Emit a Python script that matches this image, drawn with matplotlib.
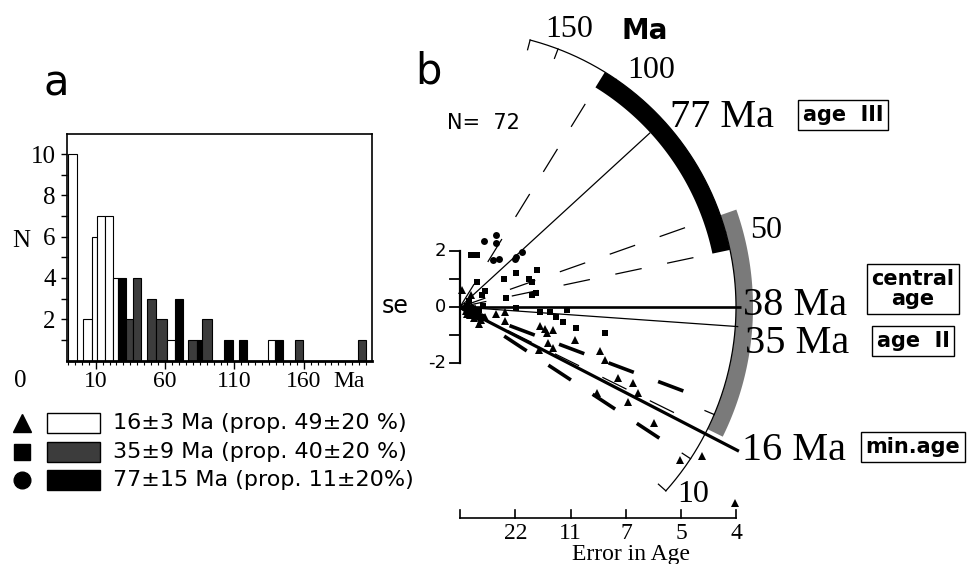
import numpy as np
import matplotlib
matplotlib.use('Agg')
import matplotlib.pyplot as plt
from matplotlib.patches import Rectangle, Polygon
from matplotlib.ticker import FixedLocator, MultipleLocator

plt.rcParams['lines.scale_dashes'] = False
SERIF = 'Liberation Serif'
SANS = 'DejaVu Sans'

# ---------------- panel a: histogram of single-grain ages (Ma) ----------------
bin_left = [-10.2, 0.6, 7.1, 11.2, 16.7, 22.3, 26.3, 31.8, 37.1, 46.8, 53.5,
            61.6, 67.2, 76.8, 82.8, 86.4, 102.5, 113.3, 134.0, 139.3, 153.7, 199.3]
bin_right = [-3.3, 7.1, 11.2, 16.7, 22.3, 26.3, 31.8, 37.1, 42.4, 53.5, 61.6,
             67.2, 72.7, 82.8, 86.4, 94.1, 109.2, 118.9, 139.3, 144.8, 159.2, 204.9]
counts = [10, 2, 6, 7, 7, 4, 4, 2, 4, 3, 2, 1, 3, 1, 1, 2, 1, 1, 1, 1, 1, 1]
group = ['I', 'I', 'I', 'I', 'I', 'I', 'III', 'II', 'II', 'II', 'II',
         'I', 'III', 'II', 'III', 'II', 'III', 'III', 'I', 'III', 'II', 'II']
hist_ticks = [10, 60, 110, 160]

# ---------------- components ----------------
comp_age = [16, 35, 77]
comp_err = [3, 9, 15]
comp_prop = ['49±20 %', '40±20 %', '11±20%']
central_age = 38
n_grains = 72

# ---------------- panel b: radial plot points (precision, standardised estimate) ----
x_tri = [0.03, 0.20, 0.34, 0.66, 0.81, 0.81, 1.45, 1.54, 1.57, 1.69, 1.60, 1.69, 1.42,
         2.08, 2.53, 2.62, 2.86, 3.13, 3.22, 3.04, 2.48, 3.50, 3.98, 4.37, 4.97,
         0.10, 0.18, 0.25, 0.30, 0.38, 0.15, 0.22, 0.45, 0.12, 0.28]
y_tri = [0.61, 0.43, -0.61, -0.26, -0.17, -0.49, -0.68, -0.80, -0.94, -0.82, -1.30, -1.48, -1.54,
         -1.18, -1.56, -1.89, -2.55, -2.73, -3.08, -3.38, -3.06, -4.13, -5.46, -5.32, -7.01,
         -0.15, -0.30, -0.40, -0.20, -0.45, 0.10, -0.10, -0.35, -0.25, -0.05]
x_sq = [0.20, 0.30, 1.39, 1.02, 0.80, 1.25, 1.30, 0.84, 1.30, 1.37, 0.45, 0.39, 1.02,
        1.45, 1.63, 1.93, 1.74, 1.87, 2.10, 2.62, 0.30,
        0.12, 0.20, 0.28, 0.35, 0.16, 0.42]
y_sq = [1.86, 1.86, 1.32, 1.23, 1.00, 1.00, 0.90, 0.31, 0.43, 0.49, 0.58, 0.43, -0.05,
        -0.17, -0.17, -0.11, -0.35, -0.55, -0.74, -0.92, 0.90,
        0.05, -0.05, -0.25, -0.12, 0.22, 0.05]
x_cir = [0.43, 0.66, 0.66, 0.60, 0.71, 1.00, 1.02, 1.12]
y_cir = [2.37, 2.57, 2.27, 1.68, 1.70, 1.70, 1.77, 1.95]

err_labels = ['22', '11', '7', '5', '4']
arc_tick_ages = [0, 10, 20, 50, 100, 150, 200]

# ---------------- geometry of the radial plot ----------------
SX, SY = 55.3, 28.0      # pixels per unit (precision, se)
OX, OY = 460.0, 307.0    # origin pixel
K = 0.0235               # pixel slope per Ma
R_ARC = 276.0


def P(px, py):
    return ((px - OX) / SX, (OY - py) / SY)


def ray(t, r):
    th = np.arctan(K * (t - central_age))
    return r * np.cos(th) / SX, r * np.sin(th) / SY


fig = plt.figure(figsize=(9.7, 5.64), dpi=100)

# ---- panel a ----
axa = fig.add_axes([66.7 / 970, (564 - 360.6) / 564, 305 / 970, 226.6 / 564])
colmap = {'I': 'white', 'II': '#3c3c3c', 'III': 'black'}
widths = [r - l for l, r in zip(bin_left, bin_right)]
axa.bar(bin_left, counts, width=widths, align='edge',
        color=[colmap[g] for g in group], edgecolor='black', linewidth=0.8)
axa.set_xlim(-10.9, 209.0)
axa.set_ylim(0, 10.97)
axa.xaxis.set_major_locator(FixedLocator(hist_ticks))
axa.xaxis.set_minor_locator(MultipleLocator(5))
axa.yaxis.set_major_locator(FixedLocator([2, 4, 6, 8, 10]))
axa.yaxis.set_minor_locator(FixedLocator([1, 3, 5, 7, 9]))
axa.tick_params(axis='x', which='major', direction='out', length=6, width=1, pad=1.5,
                labelsize=17)
axa.tick_params(axis='x', which='minor', direction='out', length=3, width=0.8)
axa.tick_params(axis='y', which='both', direction='out', length=4, width=1, pad=4,
                labelsize=18)
for lab in axa.get_xticklabels() + axa.get_yticklabels():
    lab.set_fontfamily(SERIF)
for s in ['left', 'top', 'right']:
    axa.spines[s].set_linewidth(1.2)
axa.spines['bottom'].set_linewidth(2)

# ---- overlay / panel b ----
axb = fig.add_axes([0, 0, 1, 1])
axb.set_xlim(-OX / SX, (970 - OX) / SX)
axb.set_ylim(-(564 - OY) / SY, OY / SY)
axb.axis('off')

# panel a extra labels
axb.text(*P(56, 84), 'a', fontsize=30, family=SANS, ha='center', va='center')
axb.text(*P(428, 72), 'b', fontsize=30, family=SANS, ha='center', va='center')
axb.text(*P(20, 387), '0', fontsize=18, family=SERIF, ha='center', va='baseline')
axb.text(*P(21, 247), 'N', fontsize=18, family=SERIF, ha='center', va='baseline')
axb.text(*P(349, 387), 'Ma', fontsize=17, family=SERIF, ha='center', va='baseline')

# legend of panel a
leg_y = [423, 452, 480]
leg_mk = ['^', 's', 'o']
leg_ms = [13, 11, 12]
leg_fc = ['white', '#3c3c3c', 'black']
for i, (c, e, p) in enumerate(zip(comp_age, comp_err, comp_prop)):
    yy = leg_y[i]
    axb.plot(*P(22, yy), marker=leg_mk[i], ms=leg_ms[i], color='black', ls='none')
    axb.add_patch(Rectangle(P(47, yy + 10), 53 / SX, 20 / SY, facecolor=leg_fc[i],
                            edgecolor='black', lw=1))
    axb.text(*P(113, yy), f'{c}±{e} Ma (prop. {p})', fontsize=16, family=SANS,
             ha='left', va='center')

# arc bands (component age ± 2 sigma)
def band(t1, t2, r1, r2, color):
    ts = np.linspace(t1, t2, 120)
    outer = [ray(t, r2) for t in ts]
    inner = [ray(t, r1) for t in ts[::-1]]
    axb.add_patch(Polygon(outer + inner, closed=True, facecolor=color, edgecolor='none'))

band(comp_age[2] - 2 * comp_err[2], comp_age[2] + 2 * comp_err[2], 258, R_ARC, 'black')
band(comp_age[1] - 2 * comp_err[1], comp_age[1] + 2 * comp_err[1], R_ARC, 293, '#7a7a7a')

# arc
ts = np.linspace(0, 200, 400)
arc = np.array([ray(t, R_ARC) for t in ts])
axb.plot(arc[:, 0], arc[:, 1], color='black', lw=0.9)
for t in arc_tick_ages:
    a0 = ray(t, R_ARC - 10)
    a1 = ray(t, R_ARC)
    axb.plot([a0[0], a1[0]], [a0[1], a1[1]], color='black', lw=0.9)

# dashed lines at component age ± 2 sigma
for c, e in zip(comp_age, comp_err):
    lw = 2.6 if c == comp_age[0] else 0.9
    for t in (c - 2 * e, c + 2 * e):
        x1, y1 = ray(t, 242)
        axb.plot([0, x1], [0, y1], color='black', lw=lw, dashes=(19.4, 18.7),
                 solid_capstyle='butt', dash_capstyle='butt')

# solid lines to ages
for t, r, lw in [(comp_age[2], 258, 0.9), (central_age, 281, 1.9),
                 (comp_age[1], 279, 0.9), (comp_age[0], 314, 2.3)]:
    x1, y1 = ray(t, r)
    axb.plot([0, x1], [0, y1], color='black', lw=lw, solid_capstyle='butt')

# points
axb.plot(x_tri, y_tri, ls='none', marker='^', ms=6, color='black', mew=0)
axb.plot(x_sq, y_sq, ls='none', marker='s', ms=4.6, color='black', mew=0)
axb.plot(x_cir, y_cir, ls='none', marker='o', ms=5, color='black', mew=0)

# se axis
axb.plot([0, 0], [-2, 2], color='black', lw=1.6)
for v in [-2, -1, 0, 1, 2]:
    axb.plot([-10 / SX, 0], [v, v], color='black', lw=1.3)
for v, lab in [(2, '2'), (0, '0'), (-2, '-2')]:
    axb.text(-14 / SX, v, lab, fontsize=13, family=SANS, ha='right', va='center')
axb.text(*P(395, 306), 'se', fontsize=17, family=SANS, ha='center', va='center')
axb.text(*P(483, 123), f'N=  {n_grains}', fontsize=15, family=SANS, ha='center', va='center')

# precision axis
yb = (OY - 518) / SY
axb.plot([0, 5], [yb, yb], color='black', lw=1.2)
for i in range(6):
    axb.plot([i, i], [yb, yb + 8 / SY], color='black', lw=1.2)
for i, lab in enumerate(err_labels):
    axb.text(i + 1, (OY - 539) / SY, lab, fontsize=17, family=SERIF, ha='center', va='baseline')
axb.text(*P(631, 560), 'Error in Age', fontsize=17, family=SERIF, ha='center', va='baseline')

# arc labels
axb.text(*P(569, 37), '150', fontsize=23, family=SERIF, ha='center', va='baseline')
axb.text(*P(645, 39), 'Ma', fontsize=20, family=SANS, weight='bold', ha='center', va='baseline')
axb.text(*P(651, 78), '100', fontsize=23, family=SERIF, ha='center', va='baseline')
axb.text(*P(766, 238), '50', fontsize=23, family=SERIF, ha='center', va='baseline')
axb.text(*P(693, 502), '10', fontsize=23, family=SERIF, ha='center', va='baseline')

age_lab_font = dict(fontsize=29, family=SERIF, ha='left', va='baseline')
axb.text(*P(670, 127), f'{comp_age[2]} Ma', **age_lab_font)
axb.text(*P(743, 315), f'{central_age} Ma', **age_lab_font)
axb.text(*P(745, 353), f'{comp_age[1]} Ma', **age_lab_font)
axb.text(*P(742, 460), f'{comp_age[0]} Ma', **age_lab_font)

box = dict(boxstyle='square,pad=0.22', facecolor='white', edgecolor='black', lw=1)
bfont = dict(fontsize=15, family=SANS, weight='bold', ha='center', va='center', bbox=box)
axb.text(*P(843, 115), 'age  III', **bfont)
axb.text(*P(913, 289), 'central\nage', linespacing=1.0, **bfont)
axb.text(*P(913, 341), 'age  II', **bfont)
axb.text(*P(913, 447), 'min.age', **bfont)

fig.savefig('out.png', dpi=100)
